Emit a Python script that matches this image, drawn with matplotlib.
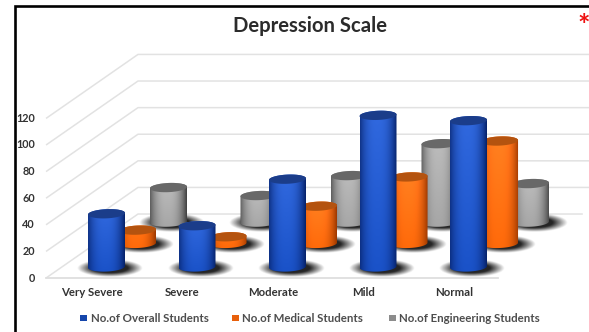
import numpy as np
import matplotlib.pyplot as plt
from matplotlib.lines import Line2D
from matplotlib.patches import PathPatch, Rectangle
from matplotlib.path import Path
from matplotlib.colors import to_rgb

categories = ['Very Severe', 'Severe', 'Moderate', 'Mild', 'Normal']
overall = [40, 31, 66, 114, 110]
medical = [10, 5, 28, 50, 77]
engineering = [26, 20, 35, 59, 29]
y_ticks = [0, 20, 40, 60, 80, 100, 120]

plt.rcParams['font.family'] = ['Lato', 'DejaVu Sans']

fig = plt.figure(figsize=(5.89, 3.32), dpi=100)
ax = fig.add_axes([0, 0, 1, 1])

# x is in category steps, y is in value units, the whole figure is one axes
xstep = 90.5
ystep = 1.33
xmin, xmax = -106.5 / xstep, (589 - 106.5) / xstep
ymin, ymax = (278 - 332) / ystep, 278 / ystep

# floor depth of the chart, and how far back each series sits
wall_dx, wall_dy = 1.016, 48.1
left_x = -0.668
floor_right = 4.327

# back to front: engineering, medical, overall
series = [
    (engineering, 0.685, 42.0, '#686868', '#3f3f3f', '#a6a6a6', 'engineering'),
    (medical, 0.343, 26.0, '#b4530f', '#9c3800', '#ff6a0a', 'medical'),
    (overall, 0.0, 8.3, '#1b3d8a', '#06226a', '#1a52c8', 'overall'),
]
rad_x = 18.5 / xstep
rad_y = 4.6 / ystep
tilt = 0.8 / ystep


def ellipse_xy(cx, cy, t):
    return cx + rad_x * np.cos(t), cy + rad_y * np.sin(t) + tilt * np.cos(t)


def cylinder_path(cx, base, top):
    t1 = np.linspace(np.pi, 2 * np.pi, 40)
    t2 = np.linspace(0, np.pi, 40)
    x1, y1 = ellipse_xy(cx, base, t1)
    x2, y2 = ellipse_xy(cx, top, t2)
    pts = np.column_stack([np.r_[x1, x2], np.r_[y1, y2]])
    return Path(np.vstack([pts, pts[0]]), closed=True)


def draw_shadow(cx, base, z):
    nx, ny = 120, 50
    w, h = 33 / xstep, 9 / ystep
    x = np.linspace(-1, 1, nx)
    y = np.linspace(-1, 1, ny)
    xx, yy = np.meshgrid(x, y)
    r = np.sqrt(xx ** 2 + yy ** 2)
    img = np.zeros((ny, nx, 4))
    img[..., :3] = 0.1
    img[..., 3] = np.clip((1 - r) / 0.45, 0, 1) * 0.95
    c = cx + 3.5 / xstep
    ax.imshow(img, extent=[c - w, c + w, base - h - 0.5, base + h - 0.5],
              origin='lower', aspect='auto', zorder=z, interpolation='bilinear')


def draw_cylinder(cx, base, value, top_col, edge_col, mid_col, z):
    top = base + value
    u = np.linspace(0, 1, 80)
    # brightest just left of the middle, falling off towards both sides
    k = np.clip(1 - (np.abs(u - 0.47) / 0.53) ** 2.6, 0, 1)[None, :, None]
    v = np.linspace(0, 1, 40)[:, None, None]
    edge = np.array(to_rgb(edge_col))[None, None, :]
    mid = np.array(to_rgb(mid_col))[None, None, :]
    img = edge * (1 - k) + mid * k
    img = np.clip(img + 0.09 * v * k * (1 if value > 15 else 0.5), 0, 1)
    im = ax.imshow(img, extent=[cx - rad_x, cx + rad_x, base - rad_y - 1, top + rad_y + 1],
                   origin='lower', aspect='auto', zorder=z, interpolation='bilinear')
    body = PathPatch(cylinder_path(cx, base, top), transform=ax.transData, fc='none', ec='none')
    ax.add_patch(body)
    im.set_clip_path(body)
    t = np.linspace(0, 2 * np.pi, 60)
    ex, ey = ellipse_xy(cx, top, t)
    ax.fill(ex, ey, color=top_col, zorder=z + 0.1, lw=0)


# gridlines run up the side and along the back wall
for val in y_ticks:
    end = floor_right + wall_dx - 0.08 if val == 0 else xmax
    xs = [left_x, left_x + wall_dx, end]
    ys = [val, val + wall_dy, val + wall_dy]
    ax.plot(xs, ys, color='#e2e2e2', lw=1.1, zorder=1, solid_capstyle='butt')
ax.plot([left_x, floor_right], [0, 0], color='#dedede', lw=1.3, zorder=1)

z = 2
for values, dx, dy, top_col, edge_col, mid_col, name in series:
    for i, val in enumerate(values):
        draw_shadow(i + dx, dy, z)
    z += 1
    for i, val in enumerate(values):
        draw_cylinder(i + dx, dy, val, top_col, edge_col, mid_col, z)
    z += 1

for val in y_ticks:
    ax.text(-71.5 / xstep, val, str(val), ha='right', va='center', fontsize=7.8,
            fontweight='bold', color='#333333', zorder=20)

for i, cat in enumerate(categories):
    ax.text(i - 0.16, -10.8, cat, ha='center', va='center', fontsize=8.2,
            fontweight='bold', color='#333333', zorder=20)

ax.text(310 / xstep + xmin, (278 - 26) / ystep, 'Depression Scale', ha='center', va='center',
        fontsize=14.6, fontweight='bold', color='#2b2b2b', zorder=20)
ax.text(584 / xstep + xmin, (278 - 26) / ystep, '*', ha='center', va='center',
        fontsize=21, fontweight='bold', color='#ee1111', zorder=20)

ax.set_xlim(xmin, xmax)
ax.set_ylim(ymin, ymax)
ax.axis('off')

# legend row
legend_items = [
    (80, 91, '#1546ab', 'No.of Overall Students'),
    (232, 242, '#e8600c', 'No.of Medical Students'),
    (389, 399, '#8c8c8c', 'No.of Engineering Students'),
]
for box_x, text_x, col, label in legend_items:
    fig.add_artist(Rectangle((box_x / 589, 1 - 320.5 / 332), 6.5 / 589, 6 / 332,
                             transform=fig.transFigure, fc=col, ec='none'))
    fig.text(text_x / 589, 1 - 318 / 332, label, ha='left', va='center',
             fontsize=8.3, color='#2e2e2e', fontweight='bold', alpha=0.85)

# black edge on the top and left
fig.add_artist(Line2D([14.5 / 589, 14.5 / 589, 1], [0, 1 - 5.8 / 332, 1 - 5.8 / 332],
                      transform=fig.transFigure, color='black', lw=1.9,
                      solid_joinstyle='miter'))

fig.savefig('out.png', dpi=100, facecolor='white')
